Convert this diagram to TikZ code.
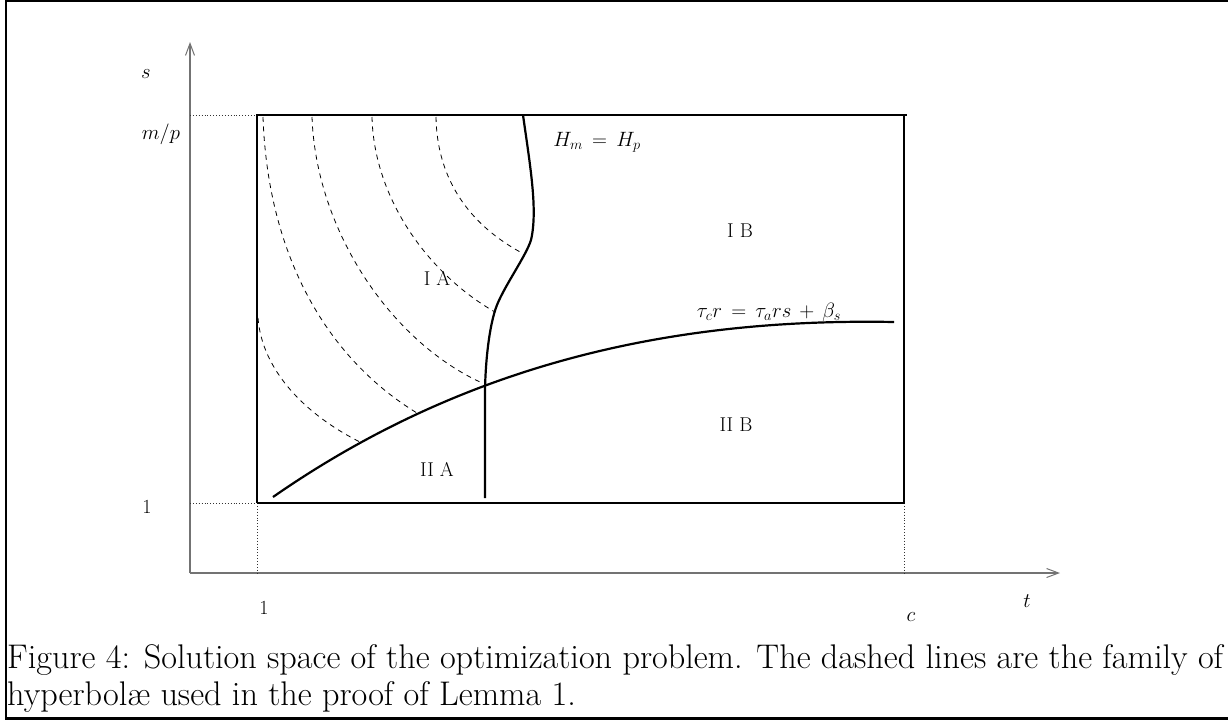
\documentclass[tikz,border=0pt]{standalone}
\usetikzlibrary{arrows.meta}
\begin{document}
\begin{tikzpicture}[x=1pt,y=-1pt,
  axis/.style={draw=black!55,line width=1.1pt,-{Straight Barb[length=12pt,width=9pt,line width=1pt]}},
  guide/.style={line width=0.9pt,dotted,black!80},
  boxline/.style={line width=2.6pt},
  curve/.style={line width=2.2pt},
  hyp/.style={line width=0.8pt,dash pattern=on 5pt off 4.5pt},
  lbl/.style={font=\fontsize{20}{22}\selectfont,inner sep=0pt},
  captext/.style={font=\fontsize{34.2}{37}\selectfont,inner sep=0pt,anchor=base west}]
\useasboundingbox (0,0) rectangle (1228,720);
\draw[line width=2.2pt] (1232,1.1) -- (6,1.1) -- (6,718.5) -- (1232,718.5);
% axes
\coordinate (O) at (190,573);
\coordinate (ytop) at (190,42);
\coordinate (xend) at (1060,573);
\draw[axis] (O) -- (ytop);
\draw[axis] (O) -- (xend);
% box corners
\coordinate (bl) at (257,503);
\coordinate (tl) at (257,115);
\coordinate (tr) at (904,115);
\coordinate (br) at (904,503);
\draw[guide] (190,115) -- (tl);
\draw[guide] (190,503) -- (bl);
\draw[guide] (bl) -- (257,573);
\draw[guide] (br) -- (904,573);
\draw[boxline] (bl) -- (tl) -- (907,115);
\draw[boxline] (tr) -- (br) -- (bl);
% dashed hyperbolae
\draw[hyp] (263,117) .. controls (268,260) and (330,360) .. (417,413);
\draw[hyp] (312,117) .. controls (316,230) and (390,340) .. (480,382);
\draw[hyp] (372,117) .. controls (374,200) and (430,275) .. (495,312);
\draw[hyp] (436,117) .. controls (437,180) and (470,225) .. (522,253);
\draw[hyp] (258,318) .. controls (262,370) and (305,415) .. (362,443);
% H_m = H_p curve
\draw[curve] (523,115) .. controls (530,165) and (538,210) .. (531,240)
  .. controls (526,256) and (505,285) .. (497,305)
  .. controls (489,325) and (485,365) .. (485,395) -- (485,498);
% tau curve
\draw[curve] (273,497) .. controls (470,360) and (680,318) .. (894,322);
% labels
\node[lbl] (ls) at (146,74) {$s$};
\node[lbl] (lmp) at (161,134) {$m/p$};
\node[lbl] (l1y) at (147,507) {1};
\node[lbl] (l1x) at (264,608) {1};
\node[lbl] (lc) at (911,617) {$c$};
\node[lbl] (lt) at (1027,601) {$t$};
\node[lbl] (lH) at (597,142) {$H_m\,=\,H_p$};
\node[lbl] (lIA) at (437,278) {I A};
\node[lbl] (lIB) at (740,231) {I B};
\node[lbl] (lIIA) at (437,469) {II A};
\node[lbl] (lIIB) at (736,425) {II B};
\node[lbl] (ltau) at (769,312) {$\tau_c r\,=\,\tau_a r s\,+\,\beta_s$};
% caption
\node[captext] (c1) at (7,668) {Figure 4: Solution space of the optimization problem. The dashed lines are the family of};
\node[captext] (c2) at (7,705) {hyperbol\ae{} used in the proof of Lemma 1.};
\end{tikzpicture}
\end{document}
